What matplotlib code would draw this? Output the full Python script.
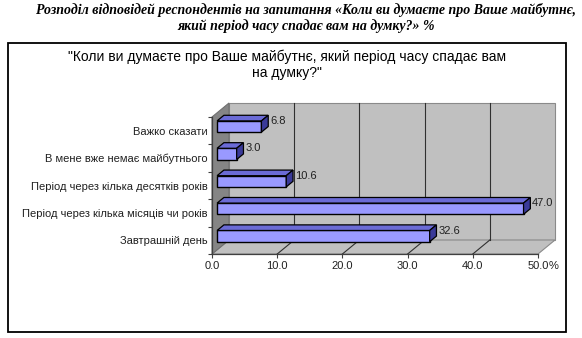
import matplotlib
matplotlib.use("Agg")
import matplotlib.pyplot as plt
from matplotlib.patches import Polygon, Rectangle

# data (bottom to top, as drawn)
categories = [
    "Завтрашній день",
    "Період через кілька місяців чи років",
    "Період через кілька десятків років",
    "В мене вже немає майбутнього",
    "Важко сказати",
]
values = [32.6, 47.0, 10.6, 3.0, 6.8]
xticks = [0, 10, 20, 30, 40, 50]
xtick_labels = ["0.0", "10.0", "20.0", "30.0", "40.0", "50.0"]

title = ("Розподіл відповідей респондентів на запитання «Коли ви думаєте про Ваше майбутнє,\n"
         "який період часу спадає вам на думку?» %")
chart_title = "\"Коли ви думаєте про Ваше майбутнє, який період часу спадає вам\nна думку?\""

W, H = 582, 338
fig = plt.figure(figsize=(W / 100, H / 100), dpi=100)

# outer frame
fig.patches.append(Rectangle((8 / W, 1 - 332 / H), 558 / W, 289 / H, transform=fig.transFigure,
                             fill=False, edgecolor="black", linewidth=1.3))

fig.text(306 / W, 1 - 18 / H, title, ha="center", va="center", family="Liberation Serif",
         style="italic", weight="bold", fontsize=10, linespacing=1.15)
fig.text(287 / W, 1 - 65 / H, chart_title, ha="center", va="center", family="Liberation Sans",
         fontsize=10, linespacing=1.2)

ax = fig.add_axes([212 / W, 1 - 254 / H, 326 / W, 137 / H])
xmax = 50
n = len(categories)
ax.set_xlim(0, xmax)
ax.set_ylim(0, n)
ax.set_facecolor("none")

# depth of the 3d box, in data units
DX = 17 / (326 / xmax)
DY = 14 / (137 / n)

wall = "#c0c0c0"
ax.add_patch(Polygon([(DX, DY), (xmax + DX, DY), (xmax + DX, n + DY), (DX, n + DY)],
                     closed=True, facecolor=wall, edgecolor="#8a8a8a", lw=0.8, clip_on=False, zorder=0))
ax.add_patch(Polygon([(0, 0), (xmax, 0), (xmax + DX, DY), (DX, DY)],
                     closed=True, facecolor=wall, edgecolor="#8a8a8a", lw=0.8, clip_on=False, zorder=0))
ax.add_patch(Polygon([(0, 0), (DX, DY), (DX, n + DY), (0, n)],
                     closed=True, facecolor="#858585", edgecolor="#707070", lw=0.8, clip_on=False, zorder=0))

for v in xticks[1:-1]:
    ax.plot([v + DX, v + DX], [DY, n + DY], color="#303030", lw=0.8, clip_on=False, zorder=1)
    ax.plot([v, v + DX], [0, DY], color="#303030", lw=0.8, clip_on=False, zorder=1)

# bars: front face + top + side
f0, f1 = 0.3, 0.7
bh = 0.41
x0 = f0 * DX
bdx, bdy = (f1 - f0) * DX, (f1 - f0) * DY
front, top, side = "#9999ff", "#6b6bd6", "#3a3a99"
for i, v in enumerate(values):
    yb = i + 0.5 - bh / 2 + f0 * DY
    yt = yb + bh
    ax.barh(i + 0.5 + f0 * DY, v, height=bh, left=x0, color=front, edgecolor="black",
            linewidth=1.0, zorder=3, clip_on=False)
    ax.add_patch(Polygon([(x0, yt), (x0 + v, yt), (x0 + v + bdx, yt + bdy), (x0 + bdx, yt + bdy)],
                         closed=True, facecolor=top, edgecolor="black", lw=0.9, zorder=3, clip_on=False))
    ax.add_patch(Polygon([(x0 + v, yb), (x0 + v, yt), (x0 + v + bdx, yt + bdy), (x0 + v + bdx, yb + bdy)],
                         closed=True, facecolor=side, edgecolor="black", lw=0.9, zorder=3, clip_on=False))
    ax.annotate(f"{v:.1f}", xy=(x0 + v + bdx, i + 0.5 + f1 * DY), xytext=(1.2, 0),
                textcoords="offset points", ha="left", va="center", fontsize=8,
                family="Liberation Sans", color="#202020", zorder=4)

for s in ["top", "right"]:
    ax.spines[s].set_visible(False)
for s in ["left", "bottom"]:
    ax.spines[s].set_color("#404040")
    ax.spines[s].set_linewidth(0.9)
    ax.spines[s].set_zorder(2)

ax.set_xticks(xticks)
ax.set_xticklabels(xtick_labels, family="Liberation Sans", fontsize=8, color="#202020")
ax.set_yticks(range(n + 1))
ax.set_yticklabels([])
ax.set_yticks([i + 0.5 for i in range(n)], minor=True)
ax.set_yticklabels(categories, minor=True, family="Liberation Sans", fontsize=8, color="#202020")
ax.tick_params(axis="both", which="major", direction="out", length=3, width=0.8, color="#404040")
ax.tick_params(axis="x", pad=2)
ax.tick_params(axis="y", which="minor", length=0, pad=3)

lab = ax.get_xticklabels()[-1]
ax.annotate("%", xy=(1, 0.5), xycoords=lab, ha="left", va="center", fontsize=8,
            family="Liberation Sans", color="#202020")

fig.savefig("out.png", dpi=100)
